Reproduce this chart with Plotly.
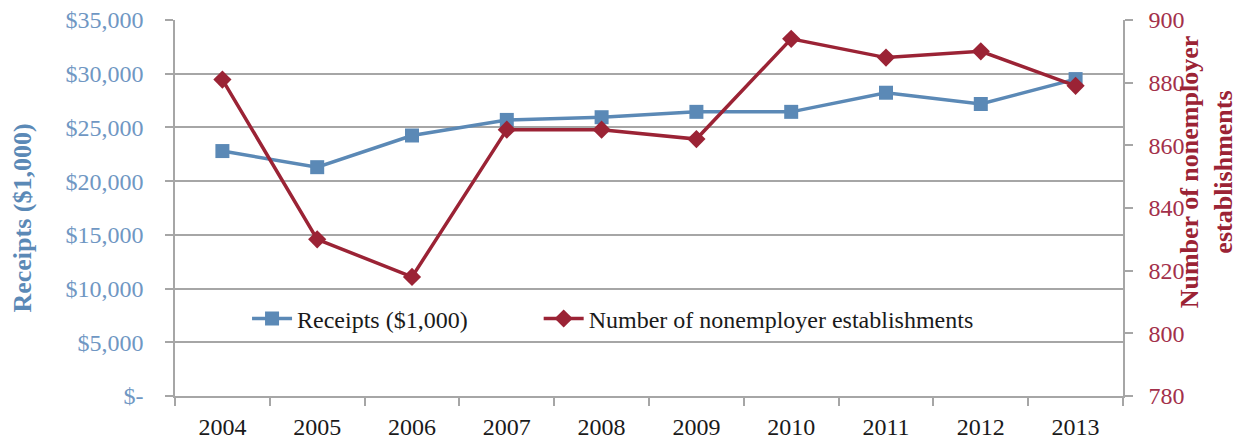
import plotly.graph_objects as go

years = ["2004", "2005", "2006", "2007", "2008", "2009", "2010", "2011", "2012", "2013"]
receipts = [22800, 21300, 24250, 25700, 25950, 26450, 26450, 28230, 27180, 29500]
establishments = [881, 830, 818, 865, 865, 862, 894, 888, 890, 879]

left_ticks = [0, 5000, 10000, 15000, 20000, 25000, 30000, 35000]
left_labels = ["$-", "$5,000", "$10,000", "$15,000", "$20,000", "$25,000", "$30,000", "$35,000"]
right_ticks = [780, 800, 820, 840, 860, 880, 900]

BLUE = "#5b89b6"
RED = "#9b2335"
GRID = "#a6a6a6"
FONT = "Liberation Serif"
NBSP = "\u00a0"

fig = go.Figure()
fig.add_trace(go.Scatter(
    x=years, y=receipts, name="Receipts ($1,000)" + NBSP * 11, mode="lines+markers",
    line=dict(color=BLUE, width=3.5),
    marker=dict(symbol="square", size=14, color=BLUE),
    yaxis="y",
))
fig.add_trace(go.Scatter(
    x=years, y=establishments, name="Number of nonemployer establishments",
    mode="lines+markers",
    line=dict(color=RED, width=3.5),
    marker=dict(symbol="diamond", size=14, color=RED),
    yaxis="y2",
))

fig.update_layout(
    width=1237, height=440,
    margin=dict(l=175, r=114, t=20, b=44, autoexpand=False),
    paper_bgcolor="white", plot_bgcolor="white",
    font=dict(family=FONT, size=24, color="#1a1a1a"),
    showlegend=True,
    legend=dict(
        orientation="h", x=0.076, y=0.205, xanchor="left", yanchor="middle",
        bgcolor="rgba(0,0,0,0)", font=dict(family=FONT, size=24, color="#1a1a1a"),
        itemwidth=40,
    ),
    xaxis=dict(
        type="category", tickson="boundaries", ticks="outside", ticklen=8,
        tickcolor=GRID, tickwidth=1.5, showline=True, linecolor=GRID, linewidth=1.5,
        showgrid=False, tickfont=dict(family=FONT, size=24, color="#1a1a1a"),
        range=[-0.5, 9.5], ticklabelstandoff=8, automargin=False,
    ),
    yaxis=dict(
        range=[0, 35000], tickvals=left_ticks, ticktext=left_labels,
        showgrid=True, gridcolor=GRID, gridwidth=1.5,
        showline=True, linecolor=GRID, linewidth=1.5,
        ticks="outside", ticklen=8, tickcolor=GRID, tickwidth=1.5,
        tickfont=dict(family=FONT, size=24, color="#6f97c3"),
        ticklabelstandoff=17, zeroline=False, automargin=False,
    ),
    yaxis2=dict(
        range=[780, 900], tickvals=right_ticks, overlaying="y", side="right",
        showgrid=False, showline=True, linecolor=GRID, linewidth=1.5,
        ticks="outside", ticklen=8, tickcolor=GRID, tickwidth=1.5,
        tickfont=dict(family=FONT, size=24, color="#a3304a"),
        ticklabelstandoff=11, zeroline=False, automargin=False,
    ),
    annotations=[
        dict(text="<b>Receipts ($1,000)</b>", textangle=-90, xref="paper", yref="paper",
             x=-0.161, y=0.473, xanchor="center", yanchor="middle", showarrow=False,
             font=dict(family=FONT, size=26, color=BLUE)),
        dict(text="<b>Number of nonemployer<br>establishments</b>", textangle=-90,
             xref="paper", yref="paper", x=1.089, y=0.596, xanchor="center",
             yanchor="middle", showarrow=False, font=dict(family=FONT, size=26, color=RED)),
    ],
)

fig.write_html("out.html", config={"displayModeBar": False},
               post_script="document.body.style.margin='0';")
